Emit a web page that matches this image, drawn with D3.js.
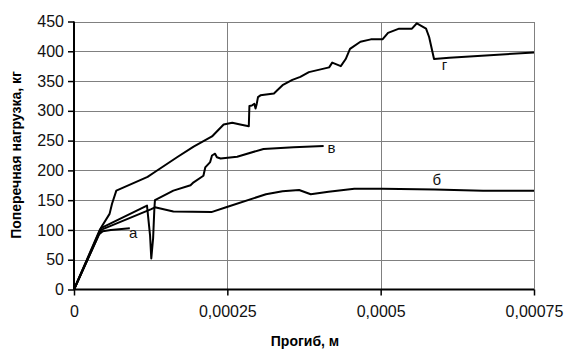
<!DOCTYPE html>
<html>
<head>
<meta charset="utf-8">
<script src="https://cdn.jsdelivr.net/npm/d3@7"></script>
<style>
  html, body { margin: 0; padding: 0; background: #fff; }
  svg { display: block; font-family: "Liberation Sans", Arial, sans-serif; }
</style>
</head>
<body>
<svg id="chart" width="564" height="352"></svg>
<script>
// Load–deflection curves of four specimens (deflection in m, load in kg)
const curveA = [[0,0],[0.000041,93],[0.000047,98],[0.00006,100],[0.000091,103]];
const curveB = [[0,0],[0.000044,100],[0.000126,135],[0.000132,138],[0.000162,131],[0.000224,130],
  [0.000248,138],[0.000313,160],[0.00034,165],[0.000367,167],[0.000386,160],[0.000415,164],
  [0.000457,169],[0.000503,169],[0.000588,168],[0.000667,166],[0.00075,166]];
const curveV = [[0,0],[0.000044,103],[0.000119,141],[0.000124,91],[0.000126,52],[0.000129,86],
  [0.000131,135],[0.000132,150],[0.000162,166],[0.00019,175],[0.000195,180],[0.000211,191],
  [0.000214,205],[0.000222,214],[0.000225,225],[0.00023,228],[0.000233,222],[0.000239,220],
  [0.000266,223],[0.000309,236],[0.000358,239],[0.000407,241]];
const curveG = [[0,0],[0.000042,100],[0.000046,107],[0.000058,127],[0.000062,144],[0.000069,166],
  [0.00012,189],[0.00013,196],[0.000168,222],[0.000195,240],[0.000225,257],[0.000244,277],
  [0.000258,280],[0.000271,277],[0.000285,274],[0.000286,308],[0.00029,309],[0.000294,312],
  [0.000296,304],[0.000298,312],[0.0003,323],[0.000304,326],[0.000326,329],[0.000331,334],
  [0.00034,343],[0.000356,352],[0.000369,357],[0.000383,365],[0.000416,373],[0.000421,381],
  [0.000435,375],[0.000443,387],[0.00045,404],[0.000467,416],[0.000484,420],[0.000503,420],
  [0.000512,431],[0.00053,438],[0.000551,438],[0.000559,447],[0.000574,438],[0.000579,424],
  [0.000587,387],[0.000612,389],[0.00075,398]];

const curveNames = ["а", "б", "в", "г"];
const curves = [curveA, curveB, curveV, curveG];

const xTicks = [0, 0.00025, 0.0005, 0.00075];
const xTickLabels = ["0", "0,00025", "0,0005", "0,00075"];
const yTicks = [0, 50, 100, 150, 200, 250, 300, 350, 400, 450];

const xTitle = "Прогиб, м";
const yTitle = "Поперечная нагрузка, кг";

const svg = d3.select("#chart");
const x = d3.scaleLinear().domain([0, 0.00075]).range([74, 534]);
const y = d3.scaleLinear().domain([0, 450]).range([289.5, 21.5]);

// grid
const grid = svg.append("g").attr("stroke", "#808080").attr("stroke-width", 1).attr("shape-rendering", "crispEdges");
grid.selectAll("line.h").data(yTicks.filter(d => d > 0)).join("line")
  .attr("x1", x(0)).attr("x2", x(0.00075))
  .attr("y1", d => Math.round(y(d)) + 0.5).attr("y2", d => Math.round(y(d)) + 0.5);
grid.selectAll("line.v").data(xTicks.filter(d => d > 0)).join("line")
  .attr("x1", d => Math.round(x(d)) + 0.5).attr("x2", d => Math.round(x(d)) + 0.5)
  .attr("y1", y(450)).attr("y2", y(0));

// axes
const xAxis = d3.axisBottom(x).tickValues(xTicks).tickSize(6).tickPadding(10)
  .tickFormat((d, i) => xTickLabels[i]);
const yAxis = d3.axisLeft(y).tickValues(yTicks).tickSize(6).tickPadding(4)
  .tickFormat(d3.format("d"));

const gx = svg.append("g").attr("transform", `translate(0,${y(0)})`).call(xAxis);
const gy = svg.append("g").attr("transform", `translate(${x(0)},0)`).call(yAxis);
[gx, gy].forEach(g => {
  g.select(".domain").attr("stroke", "#000").attr("stroke-width", 2);
  g.selectAll(".tick line").attr("stroke", "#000").attr("stroke-width", 1.5);
  g.selectAll(".tick text").attr("fill", "#111").style("font-size", "16px")
    .style("font-family", "'Liberation Sans', Arial, sans-serif");
});
gx.select(".domain").attr("d", `M${x(0)},0H${x(0.00075)}`);
gy.select(".domain").attr("d", `M0,${y(0)}V${y(450)}`);

// curves
const line = d3.line().x(d => x(d[0])).y(d => y(d[1]));
svg.append("g").selectAll("path").data(curves).join("path")
  .attr("d", line)
  .attr("fill", "none")
  .attr("stroke", "#000")
  .attr("stroke-width", 2)
  .attr("stroke-linejoin", "round");

// curve letters, placed in data coordinates
const letterAt = [[0.0000964, 96], [0.0005915, 184], [0.00042, 239], [0.000604, 377]];
svg.append("g").selectAll("text").data(curveNames).join("text")
  .attr("x", (d, i) => x(letterAt[i][0]))
  .attr("y", (d, i) => y(letterAt[i][1]))
  .attr("text-anchor", "middle")
  .attr("dominant-baseline", "central")
  .style("font-size", "15px")
  .attr("fill", "#111")
  .text(d => d);

// axis titles
svg.append("text")
  .attr("x", 305).attr("y", 346)
  .attr("text-anchor", "middle")
  .style("font-size", "14px").style("font-weight", "bold")
  .text(xTitle);
svg.append("text")
  .attr("transform", "translate(21,155) rotate(-90)")
  .attr("text-anchor", "middle")
  .style("font-size", "14px").style("font-weight", "bold")
  .text(yTitle);
</script>
</body>
</html>
